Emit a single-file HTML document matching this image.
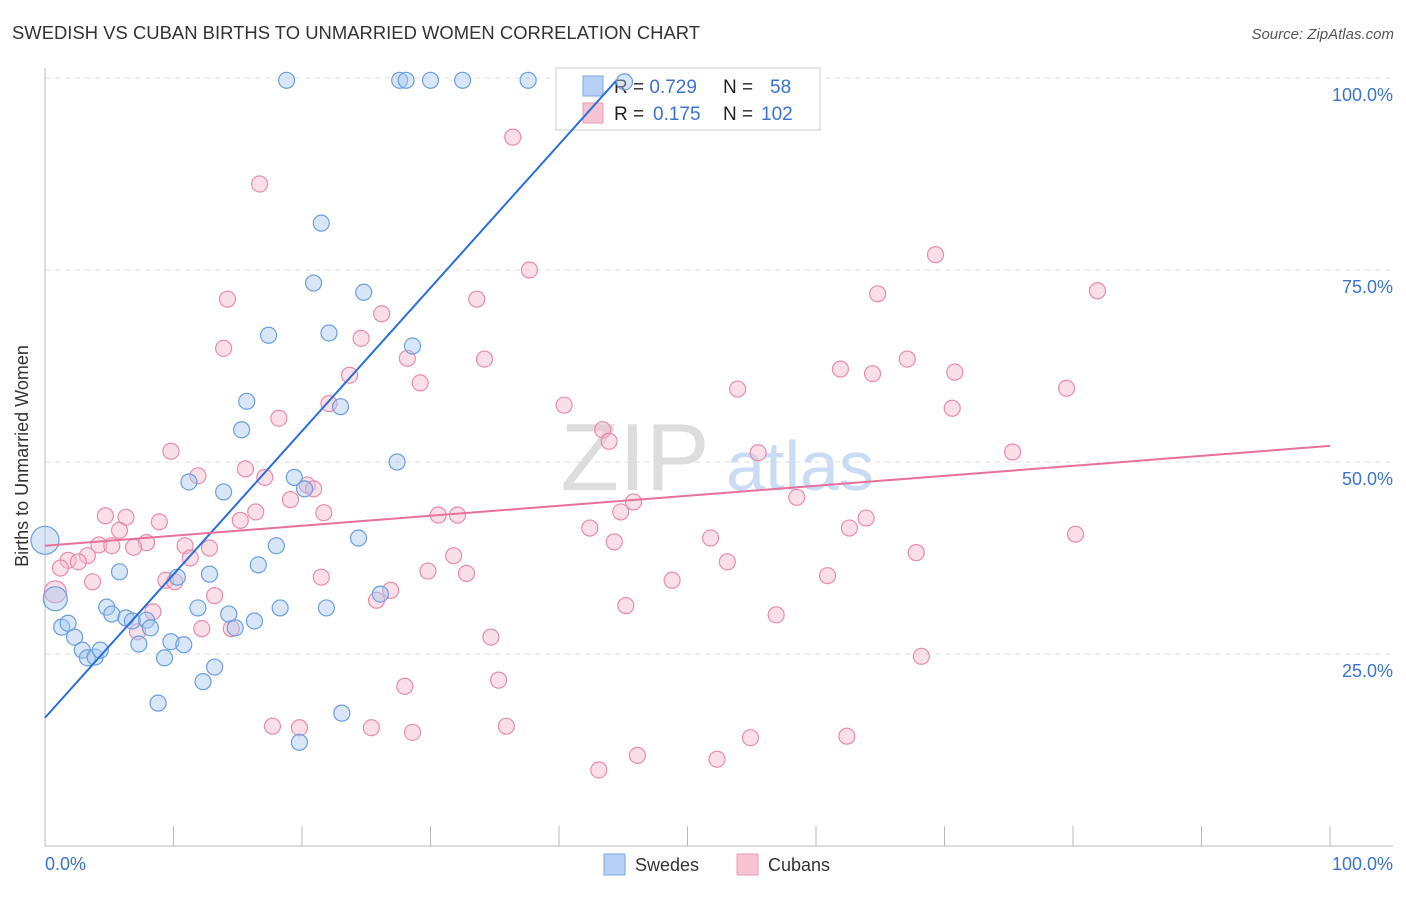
<!DOCTYPE html>
<html><head><meta charset="utf-8"><style>
body{margin:0;background:#fff;font-family:"Liberation Sans",sans-serif}
svg text{font-family:"Liberation Sans",sans-serif}
</style></head><body>
<svg width="1406" height="892" xmlns="http://www.w3.org/2000/svg" id="chart">
<text x="12" y="39" font-size="18.4" fill="#333" textLength="688">SWEDISH VS CUBAN BIRTHS TO UNMARRIED WOMEN CORRELATION CHART</text>
<text x="1394" y="39" font-size="15" fill="#555" font-style="italic" text-anchor="end">Source: ZipAtlas.com</text>
<text x="635" y="490" font-size="96" fill="#ddd" font-family="Liberation Serif" text-anchor="middle">ZIP</text>
<text x="800" y="490" font-size="70" fill="#c9dcf3" text-anchor="middle">atlas</text>
<g id="grid"></g><g id="axes"></g>
<g>
<rect x="556" y="68" width="264" height="62" fill="#fff" stroke="#ccc"/>
<rect x="583" y="76" width="20" height="20" fill="#b7d1f4" stroke="#7aa6e6"/>
<rect x="583" y="103" width="20" height="20" fill="#f8c4d4" stroke="#ec9ab5"/>
<text x="614" y="93" font-size="19" fill="#222">R = <tspan fill="#3a73d0">0.729</tspan>  <tspan x="723">N = </tspan><tspan x="770" fill="#3a73d0">58</tspan></text>
<text x="614" y="120" font-size="19" fill="#222">R = <tspan x="653" fill="#3a73d0">0.175</tspan><tspan x="723">N = </tspan><tspan x="761" fill="#3a73d0">102</tspan></text>
</g>
<g id="pts"></g><g id="lines"></g>
<text x="28" y="456" font-size="18" fill="#333" transform="rotate(-90 28 456)" text-anchor="middle">Births to Unmarried Women</text>
<text x="45" y="870" font-size="18" fill="#3a73d0">0.0%</text>
<text x="1393" y="870" font-size="18" fill="#3a73d0" text-anchor="end">100.0%</text>
<g>
<rect x="604" y="854" width="21" height="21" fill="#b7d1f4" stroke="#7aa6e6"/>
<text x="635" y="871" font-size="18" fill="#333">Swedes</text>
<rect x="737" y="854" width="21" height="21" fill="#f8c4d4" stroke="#ec9ab5"/>
<text x="768" y="871" font-size="18" fill="#333">Cubans</text>
</g>
</svg>
<script>
const yTicks=[25,50,75,100];
const xTicks=[0,10,20,30,40,50,60,70,80,90,100];
const swedesX=[18.8,27.6,28.1,30.0,32.5,37.6,45.1,21.5,20.9,24.8,17.4,22.1,28.6,15.7,23.0,15.3,27.4,19.4,20.2,11.2,13.9,24.4,18.0,0,16.6,5.8,10.3,12.8,26.1,0.8,4.8,5.2,11.9,18.3,21.9,6.3,6.8,7.9,14.3,16.3,8.2,14.8,1.3,1.8,2.3,2.9,3.3,3.9,4.3,7.3,9.8,10.8,9.3,13.2,12.3,8.8,23.1,19.8];
const swedesY=[99.7,99.7,99.7,99.7,99.7,99.7,99.5,81.1,73.3,72.1,66.5,66.8,65.1,57.9,57.2,54.2,50.0,48.0,46.5,47.4,46.1,40.1,39.1,39.8,36.6,35.7,35.0,35.4,32.8,32.2,31.1,30.2,31.0,31.0,31.0,29.7,29.3,29.4,30.2,29.3,28.4,28.4,28.5,29.0,27.2,25.5,24.5,24.6,25.5,26.3,26.6,26.2,24.5,23.3,21.4,18.6,17.3,13.5];
const cubansX=[36.4,16.7,69.3,37.7,64.8,81.9,14.2,33.6,26.2,24.6,13.9,28.2,34.2,67.1,61.9,64.4,70.8,23.7,29.2,53.9,79.5,40.4,22.1,70.6,18.2,43.4,43.9,55.5,75.3,9.8,15.6,11.9,17.1,20.4,20.9,19.1,58.5,45.8,44.8,16.4,21.7,30.6,32.1,4.7,6.3,15.2,63.9,8.9,62.6,42.4,5.8,80.2,51.8,7.9,44.3,4.2,5.2,6.9,10.9,12.8,67.8,3.3,11.3,31.8,53.1,1.8,2.6,1.2,29.8,32.8,21.5,60.9,48.8,9.4,10.1,3.7,26.9,0.8,13.2,25.8,45.2,8.4,56.9,12.2,7.2,14.5,34.7,68.2,35.3,28.0,17.7,19.8,25.4,28.6,35.9,62.4,54.9,46.1,52.3,43.1];
const cubansY=[92.3,86.2,77.0,75.0,71.9,72.3,71.2,71.2,69.3,66.1,64.8,63.5,63.4,63.4,62.1,61.5,61.7,61.3,60.3,59.5,59.6,57.4,57.6,57.0,55.7,54.2,52.7,51.2,51.3,51.4,49.1,48.2,48.0,47.0,46.5,45.1,45.4,44.8,43.5,43.5,43.4,43.1,43.1,43.0,42.8,42.4,42.7,42.2,41.4,41.4,41.1,40.6,40.1,39.5,39.6,39.2,39.1,38.9,39.1,38.8,38.2,37.8,37.5,37.8,37.0,37.2,37.0,36.2,35.8,35.5,35.0,35.2,34.6,34.6,34.4,34.4,33.3,33.1,32.6,32.0,31.3,30.5,30.1,28.3,27.9,28.3,27.2,24.7,21.6,20.8,15.6,15.4,15.4,14.8,15.6,14.3,14.1,11.8,11.3,9.9];
const blueTrend=[16.7,1.866];
const pinkTrend=[39.1,0.13];
const X=v=>45+v*12.85, Y=v=>846-v*7.68;
const NS='http://www.w3.org/2000/svg';
function mk(t,a,p){const e=document.createElementNS(NS,t);for(const k in a)e.setAttribute(k,a[k]);document.getElementById(p).appendChild(e);return e;}
yTicks.forEach(t=>{
 const g=mk('line',{x1:45,x2:1393,y1:Y(t),y2:Y(t),stroke:'#ddd','stroke-dasharray':'5,5'},'grid');
 
 
 const tx=mk('text',{x:1393,y:Y(t)+23,'font-size':18,fill:'#3a73d0','text-anchor':'end'},'grid');
 tx.textContent=t.toFixed(1)+'%';
 
 
});
const ax=mk('line',{x1:45,x2:45,y1:68,y2:846,stroke:'#bbb'},'axes');


const bx=mk('line',{x1:45,x2:1393,y1:846,y2:846,stroke:'#bbb'},'axes');


xTicks.forEach(t=>{
 const l=mk('line',{x1:X(t),x2:X(t),y1:826,y2:846,stroke:'#bbb'},'axes');
 
 
});
function pts(xs,ys,fill,stroke,name){xs.forEach((x,i)=>{
 const r=(x===0&&ys[i]>39)?14:(x<1&&name==='swede-point'?12:(x<1?11:8));
 const c=mk('circle',{cx:X(x),cy:Y(ys[i]),r:r,fill:fill,'fill-opacity':0.45,stroke:stroke,'stroke-width':1.2},'pts');
 
 
});}
pts(cubansX,cubansY,'#f6b9cc','#e98cab','cuban-point');
pts(swedesX,swedesY,'#a9c8f0','#6b9ee0','swede-point');
const bl=mk('line',{x1:X(0),y1:Y(blueTrend[0]),x2:X(44.4),y2:Y(blueTrend[0]+blueTrend[1]*44.4),stroke:'#2a6fd6','stroke-width':2},'lines');


const pl=mk('line',{x1:X(0),y1:Y(pinkTrend[0]),x2:X(100),y2:Y(pinkTrend[0]+pinkTrend[1]*100),stroke:'#e8709a','stroke-width':2},'lines');


</script>
</body></html>
